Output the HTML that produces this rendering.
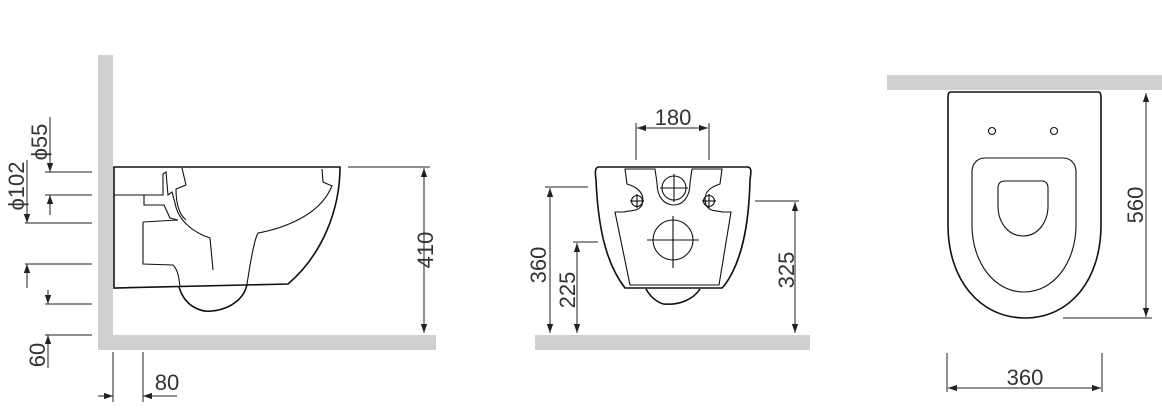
<!DOCTYPE html>
<html><head><meta charset="utf-8"><style>html,body{margin:0;padding:0;background:#fff}svg{display:block}</style></head>
<body>
<svg width="1162" height="414" viewBox="0 0 1162 414" xmlns="http://www.w3.org/2000/svg" font-family="Liberation Sans, sans-serif" font-size="22" fill="none">
<defs>
<marker id="a" viewBox="0 0 10 10" refX="10" refY="5" markerWidth="9" markerHeight="9" orient="auto-start-reverse" markerUnits="userSpaceOnUse"><path d="M0,1.5 L10,5 L0,8.5 Z" fill="#222"/></marker>
</defs>
<!-- LEFT VIEW -->
<rect x="98" y="55" width="15" height="295" fill="#d0d0d0"/>
<rect x="98" y="335" width="338" height="15" fill="#d0d0d0"/>
<g stroke="#111" stroke-width="1.6">
<path d="M114,167 L340,167 C340,210 322,255 288,284 L114,288 Z"/>
<path d="M179,287 C186,310 205,312 212,311 C232,309 245,297 247,284"/>
</g>
<g stroke="#111" stroke-width="1.1">
<path d="M114,195 L163,195 L163,174 L166,172 L168,195 L172,192 L175,203 C178,220 192,232 210,238 L213,270"/>
<path d="M182,168 L186,185 L176,189 C176,205 180,215 186,220"/>
<path d="M144,195 L144,205 L164,205 L170,218 L178,220"/>
<path d="M143,222 L143,264 L173,265 C178,270 179,278 180,287"/>
<path d="M143,222 L178,220"/>
<path d="M247,284 C250,265 254,240 258,233 C285,228 318,215 330,190 L332,186 L323,182 L322,169"/>
</g>
<g stroke="#222" stroke-width="1">
<line x1="348" y1="167" x2="430" y2="167"/>
<line x1="424" y1="168" x2="424" y2="333" marker-start="url(#a)" marker-end="url(#a)"/>
<line x1="45" y1="172" x2="92" y2="172"/><line x1="45" y1="195" x2="92" y2="195"/>
<line x1="50" y1="117" x2="50" y2="172" marker-end="url(#a)"/>
<line x1="50" y1="215" x2="50" y2="195" marker-end="url(#a)"/>
<line x1="25" y1="223" x2="92" y2="223"/><line x1="25" y1="264" x2="92" y2="264"/>
<line x1="27" y1="160" x2="27" y2="223" marker-end="url(#a)"/>
<line x1="27" y1="288" x2="27" y2="264" marker-end="url(#a)"/>
<line x1="45" y1="304" x2="92" y2="304"/><line x1="45" y1="335" x2="92" y2="335"/>
<line x1="48" y1="290" x2="48" y2="304" marker-end="url(#a)"/>
<line x1="48" y1="368" x2="48" y2="335" marker-end="url(#a)"/>
<line x1="113" y1="352" x2="113" y2="402"/><line x1="143" y1="352" x2="143" y2="402"/>
<line x1="98" y1="396" x2="113" y2="396" marker-end="url(#a)"/>
<line x1="177" y1="396" x2="143" y2="396" marker-end="url(#a)"/>
</g>
<g fill="#333" stroke="none">
<text transform="translate(433,250) rotate(-90)" text-anchor="middle">410</text>
<text transform="translate(47,142) rotate(-90)" text-anchor="middle">ϕ55</text>
<text transform="translate(24,186) rotate(-90)" text-anchor="middle">ϕ102</text>
<text transform="translate(45,355) rotate(-90)" text-anchor="middle">60</text>
<text x="167" y="390" text-anchor="middle">80</text>
</g>
<!-- MIDDLE VIEW -->
<rect x="535" y="335" width="275" height="15" fill="#d0d0d0"/>
<g stroke="#111" stroke-width="1.6">
<path d="M598,167 L748,167 C752,168 751,172 750,180 C749,225 742,262 724,286 L722,288 L625,288 C605,262 598,225 596,180 C595,172 595,168 598,167 Z"/>
<path d="M646,289 C652,300 662,305 667,304 C678,305 693,300 700,289"/>
</g>
<g stroke="#111" stroke-width="1.1">
<path d="M625,169 L627,184 C640,188 645,195 642,205 C638,212 630,210 624,212 L615,212 L630,285 L719,285 L731,212 L722,212 C715,210 710,212 706,205 C703,195 707,188 720,184 L722,169 L692,169 L690,183 C690,198 682,205 674,205 C665,205 657,198 657,183 L655,169 Z"/>
<circle cx="674" cy="188" r="12"/><line x1="660" y1="188" x2="688" y2="188"/><line x1="674" y1="174" x2="674" y2="202"/>
<circle cx="637" cy="201" r="5.5"/><line x1="630" y1="201" x2="644" y2="201"/><line x1="637" y1="194" x2="637" y2="208"/>
<circle cx="709" cy="201" r="5.5"/><line x1="702" y1="201" x2="716" y2="201"/><line x1="709" y1="194" x2="709" y2="208"/>
<circle cx="673" cy="240" r="20"/><line x1="647" y1="240" x2="699" y2="240"/><line x1="673" y1="216" x2="673" y2="268"/>
</g>
<g stroke="#222" stroke-width="1">
<line x1="636" y1="123" x2="636" y2="160"/><line x1="709" y1="123" x2="709" y2="160"/>
<line x1="637" y1="128" x2="708" y2="128" marker-start="url(#a)" marker-end="url(#a)"/>
<line x1="545" y1="187" x2="588" y2="187"/>
<line x1="550" y1="188" x2="550" y2="333" marker-start="url(#a)" marker-end="url(#a)"/>
<line x1="573" y1="242" x2="598" y2="242"/>
<line x1="577" y1="243" x2="577" y2="333" marker-start="url(#a)" marker-end="url(#a)"/>
<line x1="755" y1="201" x2="799" y2="201"/>
<line x1="795" y1="202" x2="795" y2="333" marker-start="url(#a)" marker-end="url(#a)"/>
</g>
<g fill="#333" stroke="none">
<text x="673" y="125" text-anchor="middle">180</text>
<text transform="translate(546,265) rotate(-90)" text-anchor="middle">360</text>
<text transform="translate(575,290) rotate(-90)" text-anchor="middle">225</text>
<text transform="translate(794,270) rotate(-90)" text-anchor="middle">325</text>
</g>
<!-- RIGHT VIEW -->
<rect x="887" y="75" width="275" height="15" fill="#d0d0d0"/>
<g stroke="#111" stroke-width="1.6">
<path d="M951,92 L1098,92 C1101,92 1101,95 1101,100 L1101,225 C1101,280 1070,318 1025,318 C980,318 948,280 948,225 L948,100 C948,95 948,92 951,92 Z"/>
</g>
<g stroke="#111" stroke-width="1.1">
<circle cx="992" cy="131" r="3.5"/><circle cx="1054" cy="131" r="3.5"/>
<path d="M985,158 L1063,158 C1071,158 1076,164 1076,172 L1076,225 C1076,262 1054,292 1024,292 C994,292 972,262 972,225 L972,172 C972,164 977,158 985,158 Z"/>
<path d="M1005,181 L1042,181 C1046,181 1048,184 1048,188 L1048,206 C1048,222 1038,236 1023,236 C1008,236 998,222 998,206 L998,188 C998,184 1000,181 1005,181 Z"/>
</g>
<g stroke="#222" stroke-width="1">
<line x1="1063" y1="318" x2="1152" y2="318"/>
<line x1="1146" y1="93" x2="1146" y2="317" marker-start="url(#a)" marker-end="url(#a)"/>
<line x1="947" y1="353" x2="947" y2="392"/><line x1="1102" y1="353" x2="1102" y2="392"/>
<line x1="948" y1="388" x2="1101" y2="388" marker-start="url(#a)" marker-end="url(#a)"/>
</g>
<g fill="#333" stroke="none">
<text transform="translate(1143,205) rotate(-90)" text-anchor="middle">560</text>
<text x="1025" y="385" text-anchor="middle">360</text>
</g>
</svg>
</body></html>
